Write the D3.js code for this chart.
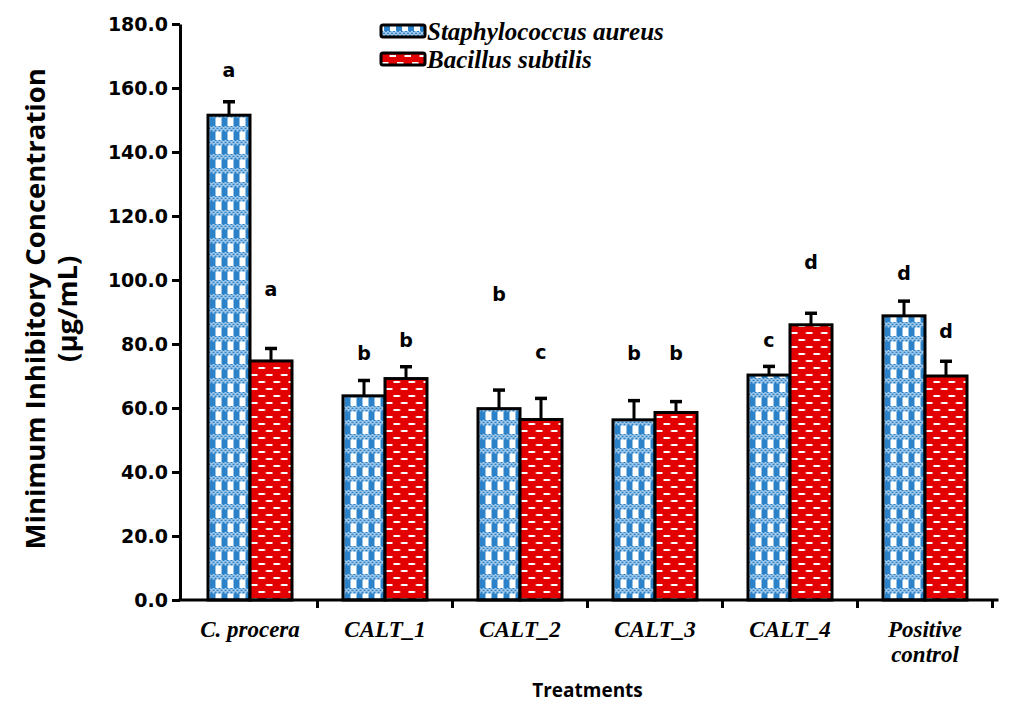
<!DOCTYPE html>
<html>
<head>
<meta charset="utf-8">
<script src="https://cdn.jsdelivr.net/npm/d3@7"></script>
<style>
  body { margin: 0; background: #fff; }
  svg { display: block; }
</style>
</head>
<body>
<svg id="chart" width="1030" height="702"></svg>
<script>

// data
const categories = ['C. procera', 'CALT_1', 'CALT_2', 'CALT_3', 'CALT_4', 'Positive control'];
const seriesNames = ['Staphylococcus aureus', 'Bacillus subtilis'];
const staphValues = [151.5, 63.8, 59.8, 56.3, 70.3, 88.8];
const staphErrors = [4.2, 4.8, 5.8, 6.0, 2.7, 4.6];
const bacillusValues = [74.7, 69.2, 56.4, 58.6, 86.0, 70.0];
const bacillusErrors = [3.9, 3.7, 6.6, 3.4, 3.6, 4.6];
const staphLetters = ['a', 'b', 'b', 'b', 'c', 'd'];
const bacillusLetters = ['a', 'b', 'c', 'b', 'd', 'd'];
// value-axis height at which each letter sits
const staphLetterAt = [165.5, 77.0, 95.5, 77.0, 81.0, 102.0];
const bacillusLetterAt = [97.0, 81.0, 77.5, 77.0, 105.5, 84.0];
const yTicks = [0, 20, 40, 60, 80, 100, 120, 140, 160, 180];

const margin = {top: 24, left: 180, bottom: 102};
const width = 1030;
const height = 702;
const groupWidth = 135;

const svg = d3.select('#chart');

// fill patterns
const defs = svg.append('defs');

const blue = '#2b82c9';
const checker = defs.append('pattern')
  .attr('id', 'checker')
  .attr('patternUnits', 'userSpaceOnUse')
  .attr('width', 12).attr('height', 14);
checker.append('rect').attr('width', 12).attr('height', 14).attr('fill', '#fff');
checker.append('rect').attr('x', 3).attr('y', 5).attr('width', 6).attr('height', 9).attr('fill', blue);
// band of small checks
for (let i = 0; i < 6; i++) {
  for (let j = 0; j < 3; j++) {
    checker.append('rect')
      .attr('x', i * 2).attr('y', j * 2 - 0.5)
      .attr('width', 2).attr('height', 2)
      .attr('fill', (i + j) % 2 === 0 ? blue : '#a9cdec');
  }
}

const dashes = defs.append('pattern')
  .attr('id', 'dashes')
  .attr('patternUnits', 'userSpaceOnUse')
  .attr('width', 15).attr('height', 14);
dashes.append('rect').attr('width', 15).attr('height', 14).attr('fill', '#e30000');
dashes.append('rect').attr('x', 1).attr('y', 3).attr('width', 6.5).attr('height', 2).attr('fill', '#fff');
dashes.append('rect').attr('x', 8.5).attr('y', 10).attr('width', 6.5).attr('height', 2).attr('fill', '#fff');

const fills = ['url(#checker)', 'url(#dashes)'];

// scales
const x = d3.scaleBand()
  .domain(categories)
  .range([margin.left + 2.5, margin.left + 2.5 + groupWidth * categories.length]);

const xInner = d3.scaleBand()
  .domain(seriesNames)
  .range([25.5, 109.5]);

const y = d3.scaleLinear()
  .domain([0, 180])
  .range([height - margin.bottom, margin.top]);

const rows = categories.map((c, i) => ({
  category: c,
  bars: [
    {name: seriesNames[0], value: staphValues[i], err: staphErrors[i], letter: staphLetters[i], letterAt: staphLetterAt[i]},
    {name: seriesNames[1], value: bacillusValues[i], err: bacillusErrors[i], letter: bacillusLetters[i], letterAt: bacillusLetterAt[i]}
  ]
}));

// bars
const groups = svg.append('g').attr('class', 'bars')
  .selectAll('g')
  .data(rows)
  .join('g')
  .attr('transform', d => `translate(${x(d.category)},0)`);

const bar = groups.selectAll('g')
  .data(d => d.bars)
  .join('g');

// error bars first, bars on top
bar.append('line')
  .attr('x1', d => xInner(d.name) + xInner.bandwidth() / 2)
  .attr('x2', d => xInner(d.name) + xInner.bandwidth() / 2)
  .attr('y1', d => y(d.value))
  .attr('y2', d => y(d.value + d.err))
  .attr('stroke', '#000')
  .attr('stroke-width', 3);

bar.append('line')
  .attr('x1', d => xInner(d.name) + xInner.bandwidth() / 2 - 6)
  .attr('x2', d => xInner(d.name) + xInner.bandwidth() / 2 + 6)
  .attr('y1', d => y(d.value + d.err))
  .attr('y2', d => y(d.value + d.err))
  .attr('stroke', '#000')
  .attr('stroke-width', 3.5);

bar.append('rect')
  .attr('x', d => xInner(d.name))
  .attr('y', d => y(d.value))
  .attr('width', xInner.bandwidth())
  .attr('height', d => y(0) - y(d.value))
  .attr('fill', (d, i) => fills[i])
  .attr('stroke', '#000')
  .attr('stroke-width', 3);

bar.append('text')
  .attr('x', d => xInner(d.name) + xInner.bandwidth() / 2)
  .attr('y', d => y(d.letterAt))
  .attr('dy', '0.35em')
  .attr('text-anchor', 'middle')
  .style('font-family', '"DejaVu Sans", Verdana, sans-serif')
  .style('font-weight', 'bold')
  .style('font-size', '19px')
  .text(d => d.letter);

// y axis
const yAxis = svg.append('g')
  .attr('transform', `translate(${margin.left},0)`)
  .call(d3.axisLeft(y).tickValues(yTicks).tickFormat(d3.format('.1f')).tickSize(8).tickSizeOuter(0));

yAxis.select('.domain').attr('stroke-width', 3);
yAxis.selectAll('.tick line').attr('stroke-width', 3);
yAxis.selectAll('.tick text')
  .attr('x', -12)
  .style('font-family', '"DejaVu Sans", Verdana, sans-serif')
  .style('font-weight', 'bold')
  .style('font-size', '19px')
  .attr('fill', '#000');

// x axis
const xAxis = svg.append('g').attr('class', 'x-axis');

xAxis.append('line')
  .attr('x1', margin.left - 1.5)
  .attr('x2', x.range()[1] + 6)
  .attr('y1', y(0))
  .attr('y2', y(0))
  .attr('stroke', '#000')
  .attr('stroke-width', 3);

xAxis.selectAll('.sep')
  .data(categories)
  .join('line')
  .attr('class', 'sep')
  .attr('x1', d => x(d) + x.bandwidth())
  .attr('x2', d => x(d) + x.bandwidth())
  .attr('y1', y(0))
  .attr('y2', y(0) + 8)
  .attr('stroke', '#000')
  .attr('stroke-width', 3);

const xLabels = xAxis.selectAll('text')
  .data(categories)
  .join('text')
  .attr('x', d => x(d) + x.bandwidth() / 2)
  .attr('y', y(0) + 37)
  .attr('text-anchor', 'middle')
  .style('font-family', '"Liberation Serif", "Times New Roman", serif')
  .style('font-weight', 'bold')
  .style('font-style', 'italic')
  .style('font-size', '23px');

xLabels.each(function(d) {
  const words = d === 'Positive control' ? ['Positive', 'control'] : [d];
  d3.select(this).selectAll('tspan')
    .data(words)
    .join('tspan')
    .attr('x', x(d) + x.bandwidth() / 2)
    .attr('dy', (w, i) => i ? 25 : 0)
    .text(w => w);
});

// axis titles
svg.append('text')
  .attr('x', (x.range()[0] + x.range()[1]) / 2)
  .attr('y', 697)
  .attr('text-anchor', 'middle')
  .style('font-family', '"Open Sans", sans-serif')
  .style('font-weight', 'bold')
  .style('font-size', '19px')
  .text('Treatments');

const yTitle = svg.append('text')
  .attr('transform', `translate(45,${y(91)}) rotate(-90)`)
  .attr('text-anchor', 'middle')
  .style('font-family', '"Open Sans", sans-serif')
  .style('font-weight', 'bold')
  .style('font-size', '27.5px');

yTitle.append('tspan').attr('x', 0).text('Minimum Inhibitory Concentration');
yTitle.append('tspan').attr('x', 0).attr('dy', 32).text('(µg/mL)');

// legend
const legend = svg.append('g')
  .attr('transform', 'translate(381,0)')
  .selectAll('g')
  .data(seriesNames)
  .join('g')
  .attr('transform', (d, i) => `translate(0,${31 + i * 28})`);

legend.append('rect')
  .attr('x', 0)
  .attr('y', -6)
  .attr('width', 44)
  .attr('height', 12)
  .attr('rx', 2)
  .attr('fill', (d, i) => fills[i])
  .attr('stroke', '#000')
  .attr('stroke-width', 3);

legend.append('text')
  .attr('x', 46)
  .attr('dy', '0.35em')
  .style('font-family', '"Liberation Serif", "Times New Roman", serif')
  .style('font-weight', 'bold')
  .style('font-style', 'italic')
  .style('font-size', '25px')
  .text(d => d);

</script>
</body>
</html>
